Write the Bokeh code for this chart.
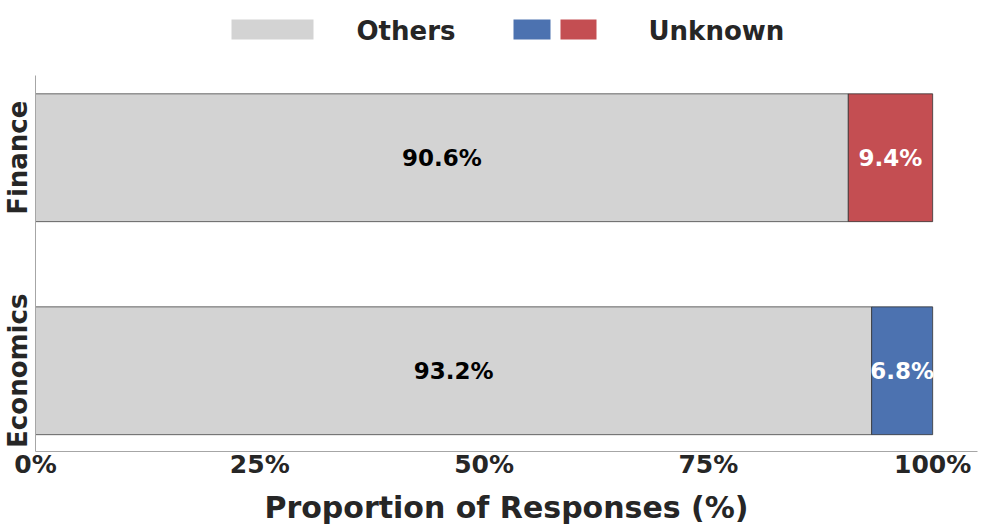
from bokeh.plotting import figure
from bokeh.models import ColumnDataSource, Range1d, FixedTicker
from bokeh.layouts import column
from bokeh.embed import file_html
from bokeh.resources import INLINE
from bokeh.core.properties import value

# ---- data ----
categories = ["Economics", "Finance"]
others = [93.2, 90.6]
unknown = [6.8, 9.4]
x_ticks = [0, 25, 50, 75, 100]
x_tick_labels = ["0%", "25%", "50%", "75%", "100%"]
legend_labels = ["Others", "Unknown"]

# ---- style ----
GRAY = "#d3d3d3"
BLUE = "#4c72b0"
RED = "#c44e52"
unknown_colors = [BLUE, RED]
TXT = "#262626"
AX = "#a6a6a6"
FONT = "DejaVu Sans"

ypos = list(range(len(categories)))

src = ColumnDataSource(dict(
    y=ypos,
    cat=categories,
    others=others,
    unknown=unknown,
    total=[o + u for o, u in zip(others, unknown)],
    oth_mid=[o / 2 for o in others],
    unk_mid=[o + u / 2 for o, u in zip(others, unknown)],
    oth_lab=[f"{o:.1f}%" for o in others],
    unk_lab=[f"{u:.1f}%" for u in unknown],
    ucol=unknown_colors,
))

W = 979
LEG_H = 68

p = figure(width=W, height=459, output_backend="svg", toolbar_location=None,
           y_range=Range1d(-0.379, len(categories) - 1 + 0.386),
           x_range=Range1d(0, 105),
           min_border_top=7, min_border_right=2, min_border_left=0,
           min_border_bottom=0)
p.outline_line_color = None
p.grid.visible = False

p.hbar(y="y", left=0, right="others", height=0.6, source=src,
       fill_color=GRAY, line_color="#444444", line_width=0.8)
p.hbar(y="y", left="others", right="total", height=0.6, source=src,
       fill_color="ucol", line_color="#333333", line_width=0.8)

p.text(x="oth_mid", y="y", text="oth_lab", source=src,
       text_align="center", text_baseline="middle",
       text_font=value(FONT), text_font_style="bold",
       text_font_size="23px", text_color="black")
p.text(x="unk_mid", y="y", text="unk_lab", source=src,
       text_align="center", text_baseline="middle",
       text_font=value(FONT), text_font_style="bold",
       text_font_size="23px", text_color="white")

# x axis
p.xaxis.ticker = FixedTicker(ticks=x_ticks)
p.xaxis.major_label_overrides = {t: l for t, l in zip(x_ticks, x_tick_labels)}
p.xaxis.axis_label = "Proportion of Responses (%)"
p.xaxis.axis_label_text_font = FONT
p.xaxis.axis_label_text_font_style = "bold"
p.xaxis.axis_label_text_font_size = "30px"
p.xaxis.axis_label_text_color = TXT
p.xaxis.axis_label_standoff = 8

# y axis (categorical labels)
p.yaxis.ticker = FixedTicker(ticks=ypos)
p.yaxis.major_label_overrides = {i: c for i, c in zip(ypos, categories)}

for ax in (p.xaxis, p.yaxis):
    ax.major_label_text_font = FONT
    ax.major_label_text_font_style = "bold"
    ax.major_label_text_color = TXT
    ax.axis_line_color = AX
    ax.axis_line_width = 1
    ax.major_tick_line_color = None
    ax.minor_tick_line_color = None
    ax.major_tick_out = 0
    ax.major_tick_in = 0

p.xaxis.major_label_text_font_size = "25px"
p.xaxis.major_label_standoff = -2
p.yaxis.major_label_text_font_size = "26px"
p.yaxis.major_label_orientation = "vertical"
p.yaxis.major_label_standoff = 2
p.yaxis.major_label_text_line_height = 1.0

# ---- custom legend (frame is aligned with the main frame: page x 35..977) ----
leg = figure(width=W, height=LEG_H, output_backend="svg", toolbar_location=None,
             x_range=Range1d(35, 977), y_range=Range1d(LEG_H, 0),
             x_axis_type=None, y_axis_type=None, min_border=0)
leg.outline_line_color = None
leg.grid.visible = False
leg.quad(left=[231], right=[313], top=[19], bottom=[39], fill_color=GRAY, line_color=None)
leg.quad(left=[513], right=[550], top=[19], bottom=[39], fill_color=BLUE, line_color=None)
leg.quad(left=[560], right=[596], top=[19], bottom=[39], fill_color=RED, line_color=None)
leg.text(x=[356, 648], y=[30, 30], text=legend_labels,
         text_align="left", text_baseline="middle",
         text_font=value(FONT), text_font_style="bold",
         text_font_size="26px", text_color=TXT)

layout = column(leg, p, spacing=0)
open("out.html", "w").write(file_html(layout, INLINE))
